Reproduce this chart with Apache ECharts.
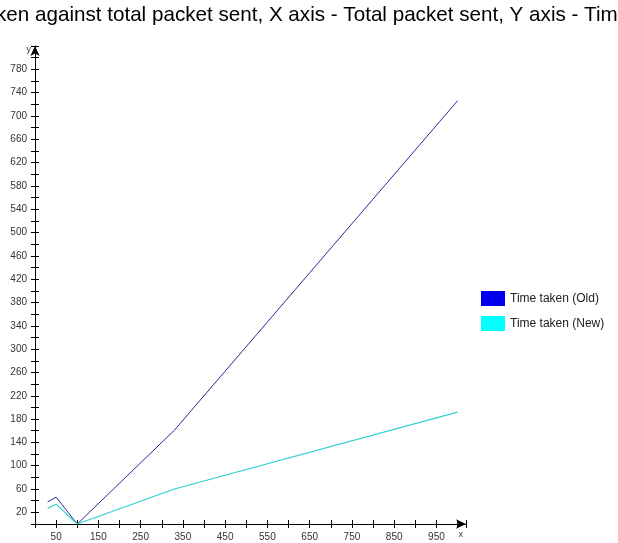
<!DOCTYPE html>
<html><head><meta charset="utf-8">
<script src="https://cdn.jsdelivr.net/npm/echarts@6/dist/echarts.min.js"></script>
<style>html,body{margin:0;padding:0;background:#fff}#c{width:618px;height:543px}</style>
</head><body><div id="c"></div>
<script>
const titleText = "Time taken against total packet sent, X axis - Total packet sent, Y axis - Time taken";
const seriesNames = ["Time taken (Old)", "Time taken (New)"];
const packetsSent = [30, 50, 100, 330, 1000];
const timeOld = [38, 46, 0, 161, 726];
const timeNew = [27, 34, 0, 60, 192];

const cv = document.createElement('canvas').getContext('2d');
cv.font = '20px "Liberation Sans"';
const visW20 = cv.measureText("ken against total packet sent, X axis - Total packet sent, Y axis - Tim").width;
const titleSize = 20 * 622 / visW20;
cv.font = titleSize + 'px "Liberation Sans"';
const prefixW = cv.measureText("Time ta").width;

const chart = echarts.init(document.getElementById('c'));
chart.setOption({
  animation: false,
  color: ['#2a2a9a', '#30d0d0'],
  graphic: [{
    type: 'text', left: -prefixW - 4, top: 5,
    style: {text: titleText, font: titleSize + 'px "Liberation Sans"', fill: '#000'}
  }],
  legend: {
    orient: 'vertical', left: 476, top: 286,
    itemWidth: 24, itemHeight: 15, itemGap: 10,
    icon: 'rect',
    textStyle: {fontFamily: 'Liberation Sans', fontSize: 12, color: '#222'},
    data: [
      {name: seriesNames[0], itemStyle: {color: '#0000ee'}},
      {name: seriesNames[1], itemStyle: {color: '#00ffff'}}
    ]
  },
  grid: {left: 35, top: 46, width: 431, bottom: 19, containLabel: false},
  xAxis: [{
    type: 'value', min: 0, max: 1020, interval: 50,
    name: 'x', nameLocation: 'end', nameGap: -3,
    nameTextStyle: {fontSize: 9, color: '#444', align: 'right', verticalAlign: 'top', padding: [6, 0, 0, 0]},
    splitLine: {show: false},
    axisLine: {lineStyle: {color: '#000'}, symbol: ['none', 'arrow'], symbolSize: [7, 10]},
    axisTick: {show: true, length: 4, lineStyle: {color: '#000'}},
    axisLabel: {fontFamily: 'Liberation Sans', fontSize: 10, color: '#333', margin: 8,
      formatter: v => ((v - 50) % 100 === 0 && v <= 950) ? String(v) : ''}
  }, {
    type: 'value', min: 0, max: 1020, interval: 50, position: 'bottom',
    axisLine: {show: false}, axisLabel: {show: false}, splitLine: {show: false},
    axisTick: {show: true, inside: true, length: 4, lineStyle: {color: '#000'}}
  }],
  yAxis: [{
    type: 'value', min: 0, max: 820, interval: 20,
    name: 'y', nameLocation: 'end', nameGap: -4,
    nameTextStyle: {fontSize: 9, color: '#444', align: 'right', verticalAlign: 'middle', padding: [0, 4, 0, 0]},
    splitLine: {show: false},
    axisLine: {lineStyle: {color: '#000'}, symbol: ['none', 'arrow'], symbolSize: [7, 10]},
    axisTick: {show: true, length: 4, lineStyle: {color: '#000'}},
    axisLabel: {fontFamily: 'Liberation Sans', fontSize: 10, color: '#333', margin: 8,
      formatter: v => ((v - 20) % 40 === 0 && v <= 780) ? String(v) : ''}
  }, {
    type: 'value', min: 0, max: 820, interval: 20, position: 'left',
    axisLine: {show: false}, axisLabel: {show: false}, splitLine: {show: false},
    axisTick: {show: true, inside: true, length: 4, lineStyle: {color: '#000'}}
  }],
  series: [
    {name: seriesNames[0], type: 'line', showSymbol: false, symbol: 'none',
     lineStyle: {width: 1, color: '#2a2a9a'},
     data: packetsSent.map((x, i) => [x, timeOld[i]])},
    {name: seriesNames[1], type: 'line', showSymbol: false, symbol: 'none',
     lineStyle: {width: 1.2, color: '#30d0d0'},
     data: packetsSent.map((x, i) => [x, timeNew[i]])}
  ]
});
</script></body></html>
